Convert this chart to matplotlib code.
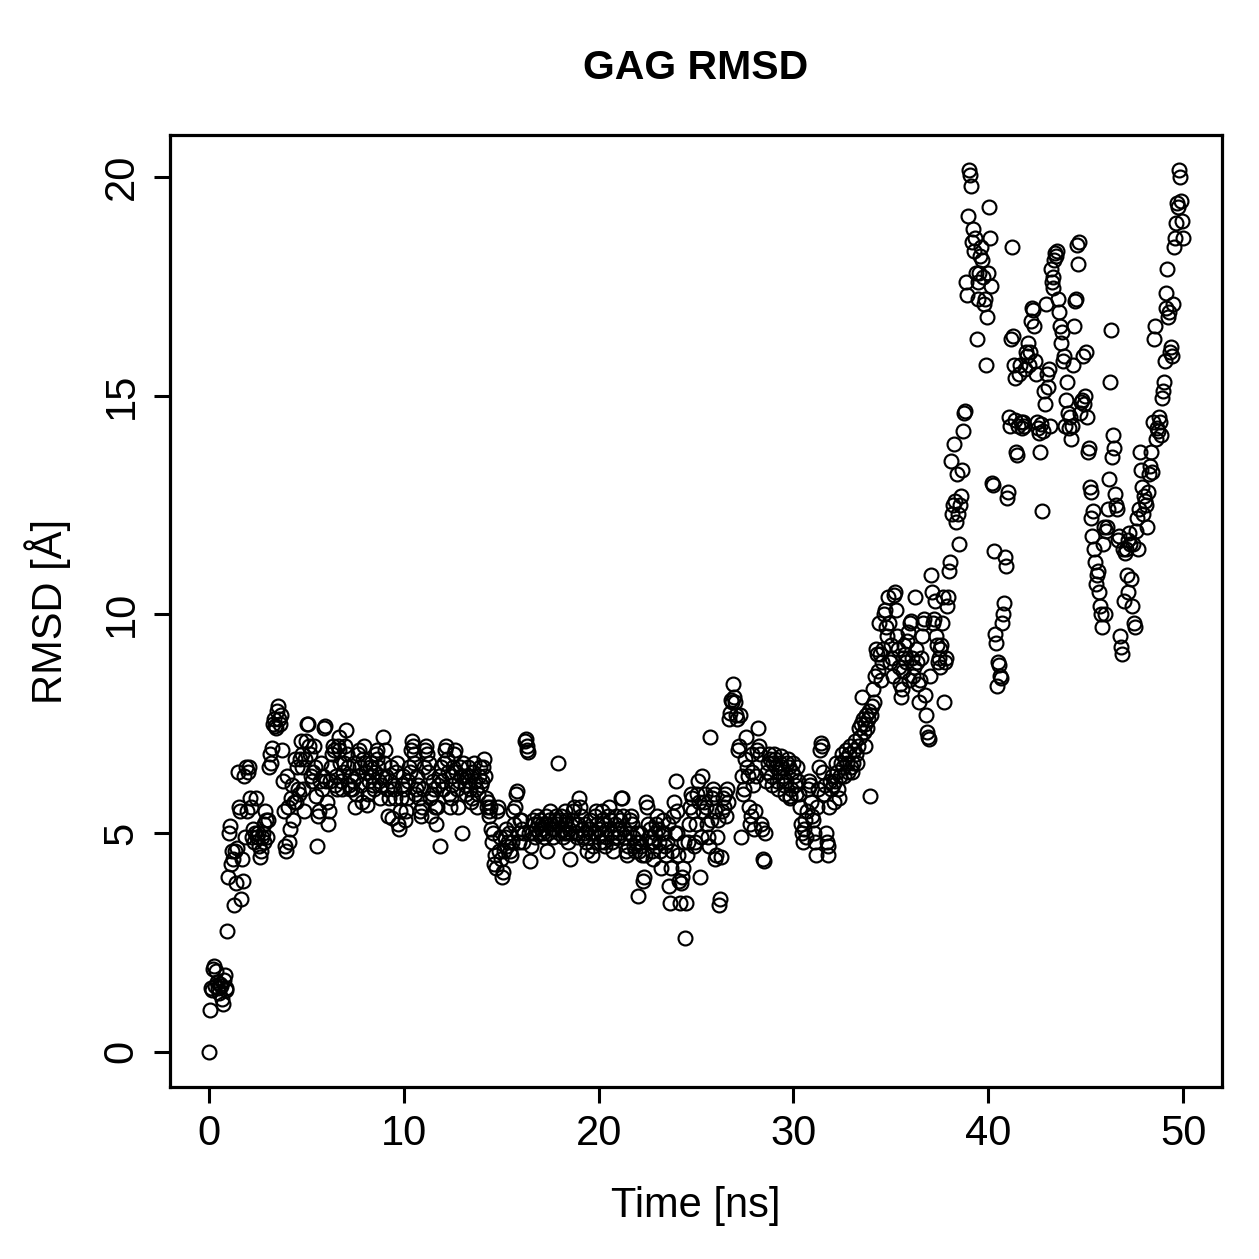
import numpy as np
import matplotlib
matplotlib.use("Agg")
import matplotlib.pyplot as plt

plt.rcParams['font.family'] = ['Liberation Sans', 'DejaVu Sans']

title = "GAG RMSD"
xlabel = "Time [ns]"
ylabel = "RMSD [Å]"
x_ticks = [0, 10, 20, 30, 40, 50]
y_ticks = [0, 5, 10, 15, 20]
dt_ns = 0.05

# RMSD values, one per 0.05 ns frame (rows = 1 ns each)
rmsd = [
    0.0, 0.95, 1.45, 1.4, 1.9, 1.95, 1.5, 1.85, 1.6, 1.45, 1.35, 1.55, 1.5, 1.2, 1.1, 1.65, 1.75, 1.45, 1.4, 2.75,
    4.0, 5.0, 5.15, 4.3, 4.6, 4.4, 3.35, 4.6, 3.85, 4.65, 6.4, 5.6, 5.5, 3.5, 4.4, 3.9, 6.3, 4.9, 6.5, 5.5,
    6.4, 6.5, 5.8, 5.6, 4.9, 5.1, 4.8, 5.0, 5.8, 4.9, 5.0, 4.7, 4.45, 4.6, 4.9, 5.0, 4.8, 5.2, 5.5, 5.3,
    4.9, 5.3, 6.5, 6.8, 6.6, 6.95, 7.5, 7.6, 7.45, 7.4, 7.8, 7.9, 7.6, 7.5, 7.7, 6.9, 6.2, 5.5, 4.7, 4.6,
    6.3, 5.6, 4.8, 5.1, 5.8, 6.1, 5.3, 5.7, 6.7, 5.7, 6.5, 6.0, 5.9, 6.7, 7.1, 6.8, 6.5, 6.0, 5.5, 6.7,
    7.1, 7.5, 7.5, 7.0, 6.8, 6.3, 6.2, 6.4, 7.0, 6.5, 5.85, 4.7, 5.4, 5.5, 6.2, 6.6, 6.0, 6.3, 7.4, 7.45,
    6.2, 5.7, 5.2, 5.5, 6.2, 6.5, 6.8, 7.0, 6.9, 6.1, 6.3, 6.0, 7.0, 7.2, 6.9, 6.6, 6.2, 6.0, 6.4, 6.6,
    7.0, 7.35, 6.8, 6.5, 6.1, 6.0, 6.3, 6.0, 6.2, 6.6, 5.6, 5.9, 6.3, 6.8, 6.9, 6.5, 6.1, 5.7, 6.7, 7.0,
    6.6, 6.4, 5.65, 5.9, 6.2, 6.5, 6.6, 6.3, 6.1, 6.0, 6.4, 6.8, 6.9, 6.7, 6.5, 6.2, 5.8, 6.1, 6.3, 7.2,
    6.6, 6.9, 6.3, 6.0, 5.4, 5.8, 6.2, 6.5, 5.35, 6.1, 6.0, 5.8, 6.4, 6.6, 5.2, 5.1, 5.5, 5.8, 6.1, 6.3,
    6.0, 5.3, 5.5, 5.8, 6.2, 6.5, 6.4, 6.9, 7.1, 7.0, 6.8, 6.6, 5.9, 6.0, 6.3, 6.1, 5.8, 5.5, 5.4, 5.6,
    6.0, 6.5, 6.9, 7.0, 6.8, 6.4, 6.6, 5.8, 5.4, 5.9, 6.2, 6.0, 5.6, 5.2, 5.6, 6.1, 6.3, 4.7, 6.5, 6.2,
    6.0, 6.6, 6.9, 7.0, 6.7, 6.4, 5.9, 5.6, 5.8, 6.1, 6.3, 6.5, 6.8, 6.9, 6.4, 6.0, 5.6, 6.2, 6.5, 6.3,
    5.0, 6.6, 6.3, 6.1, 5.9, 6.3, 6.5, 6.2, 6.0, 5.7, 5.8, 6.4, 6.6, 6.2, 6.0, 5.6, 5.9, 6.3, 6.5, 6.1,
    6.2, 6.5, 6.7, 6.3, 5.8, 5.6, 5.7, 5.5, 5.4, 5.6, 5.1, 4.8, 5.0, 4.3, 4.5, 4.2, 5.5, 5.6, 4.6, 4.9,
    4.4, 4.0, 4.1, 4.6, 4.9, 5.1, 4.7, 4.8, 5.0, 4.6, 4.5, 4.8, 5.5, 5.2, 5.6, 5.9, 5.95, 5.0, 4.8, 5.3,
    5.3, 5.1, 4.8, 5.0, 7.1, 7.15, 6.9, 7.0, 6.85, 5.0, 4.35, 4.7, 5.0, 5.3, 5.2, 4.9, 5.1, 5.4, 5.2, 5.0,
    5.3, 5.1, 5.2, 5.0, 4.9, 5.2, 5.4, 4.6, 5.0, 5.3, 5.5, 5.2, 5.1, 4.9, 5.1, 5.3, 5.4, 5.2, 6.6, 5.0,
    5.3, 5.4, 5.1, 4.9, 5.0, 5.2, 5.5, 5.3, 5.0, 4.8, 5.1, 4.4, 5.0, 5.3, 5.5, 5.6, 5.2, 5.0, 4.9, 5.2,
    5.8, 5.6, 5.4, 5.1, 4.9, 5.0, 5.2, 4.8, 4.6, 4.9, 5.1, 5.3, 5.0, 4.5, 4.7, 5.0, 5.4, 5.5, 5.2, 4.9,
    5.1, 4.8, 5.0, 5.3, 5.5, 5.2, 4.8, 4.7, 4.9, 5.1, 5.4, 5.6, 5.3, 5.0, 4.8, 4.6, 4.9, 5.2, 5.4, 5.1,
    4.9, 5.0, 5.3, 5.8, 5.8, 5.4, 5.1, 4.9, 4.6, 4.5, 4.7, 5.0, 5.3, 5.4, 5.2, 4.9, 4.7, 4.6, 4.8, 5.0,
    3.55, 4.6, 4.8, 5.0, 4.7, 4.5, 3.9, 4.0, 4.5, 5.7, 5.6, 5.2, 4.9, 5.1, 4.8, 4.6, 4.4, 4.8, 5.0, 5.2,
    5.4, 5.1, 4.8, 4.6, 4.2, 5.0, 5.3, 5.0, 4.7, 4.5, 4.8, 5.2, 3.8, 3.4, 4.2, 4.6, 5.4, 5.7, 5.0, 6.2,
    5.5, 5.0, 4.5, 3.9, 3.4, 3.85, 4.0, 4.2, 4.8, 2.6, 3.4, 4.5, 4.8, 5.2, 5.6, 5.9, 5.8, 5.5, 4.7, 4.8,
    5.2, 5.9, 6.2, 5.7, 4.0, 4.9, 6.3, 5.5, 5.7, 5.9, 5.6, 5.2, 4.9, 4.7, 7.2, 5.3, 5.8, 6.0, 5.9, 5.5,
    4.4, 4.5, 4.9, 5.3, 3.35, 3.5, 4.45, 5.5, 5.8, 5.6, 5.9, 5.4, 6.0, 5.7, 7.6, 7.75, 8.05, 8.0, 8.4, 8.1,
    8.0, 7.7, 7.6, 6.9, 7.0, 7.7, 4.9, 6.3, 5.9, 6.0, 6.7, 7.2, 6.5, 6.3, 5.6, 5.2, 5.4, 6.4, 6.8, 6.1,
    5.1, 5.5, 6.3, 6.9, 7.4, 7.0, 6.8, 5.2, 5.1, 4.4, 4.35, 5.0, 6.2, 6.4, 6.6, 6.8, 6.7, 6.3, 6.1, 6.6,
    6.8, 6.7, 6.5, 6.2, 6.0, 6.4, 6.6, 6.75, 6.5, 6.3, 6.1, 5.9, 6.2, 6.6, 6.7, 6.5, 5.85, 5.8, 6.0, 6.4,
    6.6, 6.3, 6.1, 5.9, 6.5, 6.2, 5.9, 5.6, 5.2, 5.0, 4.8, 5.1, 5.3, 4.9, 5.5, 6.0, 6.2, 6.1, 5.7, 5.4,
    5.3, 5.0, 4.8, 4.5, 5.6, 6.0, 6.5, 6.9, 7.05, 7.0, 6.4, 5.9, 6.1, 5.0, 4.8, 4.5, 4.7, 5.6, 6.2, 6.0,
    6.3, 6.1, 5.7, 6.2, 6.6, 6.4, 6.0, 5.8, 6.3, 6.6, 6.8, 6.5, 6.3, 6.7, 6.9, 6.6, 6.4, 6.8, 7.0, 6.5,
    6.4, 6.6, 6.9, 7.1, 6.8, 6.6, 7.0, 7.4, 7.2, 7.5, 8.1, 7.6, 7.3, 7.0, 7.5, 7.7, 7.4, 7.6, 7.8, 5.85,
    7.7, 7.9, 8.3, 8.0, 8.6, 9.2, 9.1, 8.7, 9.8, 9.1, 8.5, 8.9, 9.2, 10.0, 10.1, 9.7, 9.5, 10.4, 9.8, 8.9,
    9.3, 9.0, 8.6, 10.45, 10.5, 10.1, 9.5, 9.2, 8.8, 8.4, 8.1, 8.3, 8.7, 9.0, 9.3, 9.1, 8.9, 9.4, 9.6, 8.5,
    9.8, 9.85, 9.0, 8.6, 8.8, 10.4, 9.2, 8.9, 8.4, 8.0, 8.5, 9.0, 9.5, 9.8, 9.9, 8.15, 7.7, 7.3, 7.2, 7.15,
    8.6, 10.9, 10.5, 9.8, 9.9, 10.3, 9.5, 9.3, 8.9, 9.0, 9.2, 8.8, 9.3, 9.8, 10.4, 8.0, 8.9, 9.0, 10.2, 10.4,
    11.0, 11.2, 13.5, 12.3, 12.5, 13.9, 12.6, 12.1, 13.2, 12.3, 11.6, 12.5, 12.7, 13.3, 14.2, 14.6, 14.65, 17.6, 17.3, 19.1,
    20.15, 20.05, 19.8, 18.5, 18.8, 18.3, 18.6, 17.8, 16.3, 17.2, 17.6, 17.8, 18.2, 18.4, 18.1, 17.7, 17.1, 17.2, 15.7, 16.8,
    17.8, 19.3, 18.6, 17.5, 13.0, 12.95, 11.45, 9.55, 9.35, 8.35, 8.9, 8.85, 8.6, 8.55, 9.8, 10.0, 10.25, 11.3, 11.1, 12.65,
    12.8, 14.5, 14.3, 16.3, 18.4, 16.35, 15.7, 15.4, 14.45, 13.7, 13.65, 14.3, 15.5, 15.7, 14.4, 14.25, 14.4, 14.3, 15.6, 16.0,
    15.9, 16.2, 15.7, 16.0, 16.7, 17.0, 16.95, 16.6, 15.8, 15.5, 14.4, 14.25, 14.15, 13.7, 14.35, 12.35, 14.2, 15.1, 14.8, 17.1,
    15.5, 15.2, 15.6, 14.3, 17.9, 17.6, 17.45, 17.7, 18.1, 18.25, 18.2, 18.3, 17.2, 16.9, 16.6, 16.2, 16.45, 15.8, 15.9, 14.3,
    14.9, 15.3, 14.6, 14.25, 14.5, 14.0, 14.3, 15.7, 16.6, 17.15, 17.2, 18.45, 18.0, 18.5, 14.6, 14.85, 14.9, 15.9, 14.8, 15.0,
    16.0, 14.5, 13.7, 13.8, 12.9, 12.8, 12.2, 11.8, 12.35, 11.5, 11.2, 10.7, 10.9, 11.0, 10.5, 10.2, 10.0, 9.7, 11.6, 12.0,
    10.0, 11.9, 12.0, 12.4, 13.1, 15.3, 16.5, 13.6, 14.1, 13.8, 12.75, 12.5, 12.4, 11.7, 11.8, 9.5, 9.25, 9.1, 11.5, 10.3,
    11.4, 11.5, 10.9, 10.5, 11.7, 11.85, 11.6, 10.8, 10.2, 11.6, 9.8, 9.7, 11.9, 12.2, 11.5, 12.4, 13.7, 13.3, 12.9, 12.3,
    12.7, 12.6, 12.5, 12.0, 12.8, 13.2, 13.4, 13.7, 13.25, 14.4, 16.3, 16.6, 14.0, 14.25, 14.2, 14.5, 14.4, 14.1, 14.95, 15.1,
    15.3, 15.8, 17.35, 17.0, 17.9, 16.8, 16.9, 16.0, 16.1, 15.9, 17.1, 18.4, 18.6, 18.95, 19.4, 19.3, 20.15, 20.0, 19.45, 19.0,
    18.6,
]

time_ns = np.arange(len(rmsd)) * dt_ns

W = 1259
fig = plt.figure(figsize=(W / 100, W / 100), dpi=100)
ax = fig.add_axes([170/W, 1 - 1087/W, (1222-170)/W, (1087-135)/W])

ax.plot(time_ns, rmsd, linestyle='none', marker='o', ms=10, mfc='none',
        mec='black', mew=1.55)

xr = time_ns.max() - time_ns.min()
yr = max(rmsd) - min(rmsd)
ax.set_xlim(time_ns.min() - 0.04*xr, time_ns.max() + 0.04*xr)
ax.set_ylim(min(rmsd) - 0.04*yr, max(rmsd) + 0.04*yr)

ax.set_xticks(x_ticks)
ax.set_yticks(y_ticks)
ax.set_xticklabels([str(v) for v in x_ticks])
ax.set_yticklabels([str(v) for v in y_ticks], rotation=90, va='center')
ax.tick_params(axis='both', direction='out', length=11.5, width=2.2,
               labelsize=30)
ax.tick_params(axis='x', pad=8)
ax.tick_params(axis='y', pad=9)
for s in ax.spines.values():
    s.set_linewidth(2.3)

fig.text(0.5*(170+1222)/W, 1 - 1217/W, xlabel, fontsize=30,
         ha='center', va='baseline')
fig.text(48/W, 1 - 0.5*(135+1087)/W, ylabel, fontsize=30, rotation=90,
         ha='center', va='center')
fig.text(0.5*(170+1222)/W, 1 - 68/W, title, fontsize=29.5,
         fontweight='bold', ha='center', va='center')

fig.savefig("out.png", dpi=100)
